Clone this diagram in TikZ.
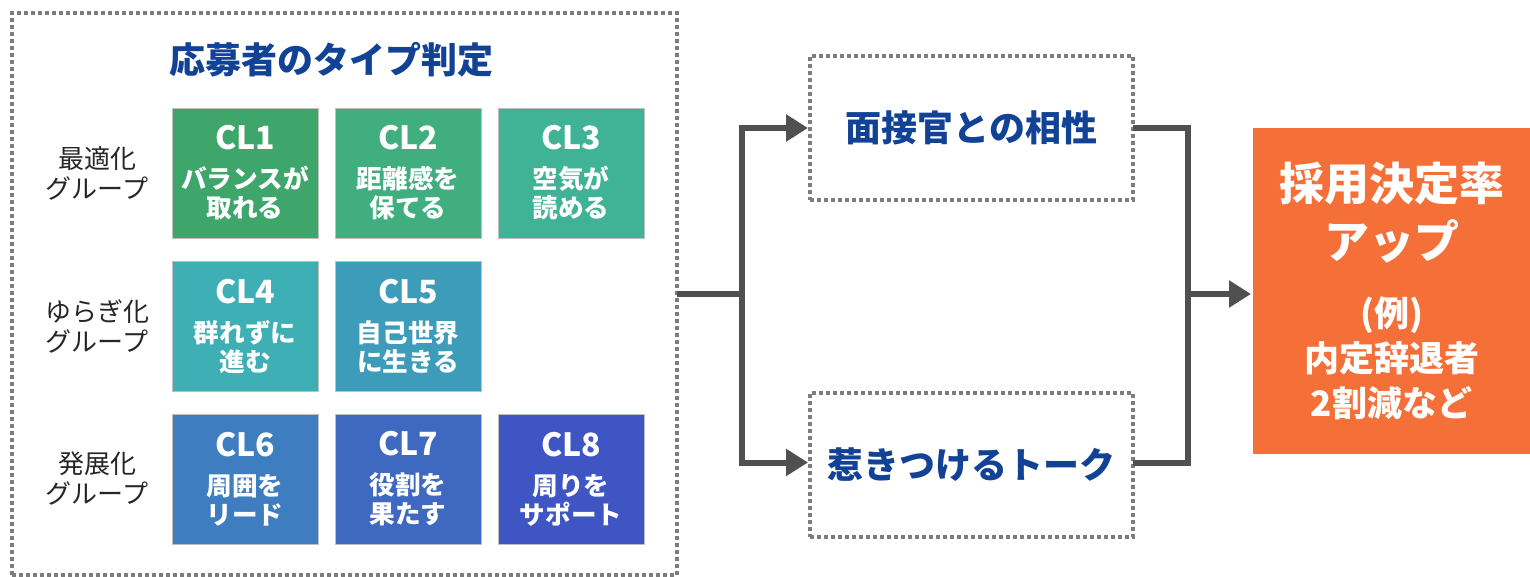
\documentclass[tikz,border=0pt]{standalone}
\usepackage{fontspec}
\setmainfont{Noto Sans CJK JP}
\usetikzlibrary{positioning,arrows.meta}

\definecolor{clA}{RGB}{63,166,107}
\definecolor{clB}{RGB}{65,174,128}
\definecolor{clC}{RGB}{64,179,150}
\definecolor{clD}{RGB}{62,175,181}
\definecolor{clE}{RGB}{62,156,187}
\definecolor{clF}{RGB}{63,125,193}
\definecolor{clG}{RGB}{63,104,192}
\definecolor{clH}{RGB}{63,85,196}
\definecolor{headblue}{RGB}{18,66,150}
\definecolor{linegray}{RGB}{80,80,80}
\definecolor{dotgray}{RGB}{125,125,125}
\definecolor{resultorange}{RGB}{244,112,56}

\begin{document}
\begin{tikzpicture}
  [x=0.5pt, y=-0.5pt,
    node distance=8.5pt,
    clbox/.style={%
      rectangle, outer sep=0pt, inner sep=0pt,
      minimum width=73pt, minimum height=65pt,
      draw=white!75!black, line width=0.4pt,
      text=white, align=center,
      font=\bfseries\fontsize{12.8}{14.5}\selectfont
    },
    grouplabel/.style={%
      align=center, text=black!85,
      font=\fontsize{13}{15}\selectfont
    },
    dotbox/.style={%
      rectangle, outer sep=0pt, draw=dotgray,
      line width=2pt, dash pattern=on 2pt off 1.5pt
    },
    conn/.style={%
      draw=linegray, line width=3pt
    },
    arr/.style={%
      conn, -{Triangle[length=11pt,width=13pt]}
    },
  ]
  \useasboundingbox (0,0) rectangle (1530,577);

  % left block
  \node[dotbox, minimum width=332.5pt, minimum height=281pt] (types) at (344.5,294) {};
  \node[text=headblue, font=\bfseries\fontsize{18}{20}\selectfont] (title) at (331,60) {応募者のタイプ判定};

  \node[clbox, fill=clA] (cl1) at (245,173)
    {{\fontsize{16}{16}\selectfont CL1}\\[5pt] バランスが\\取れる};
  \node[clbox, fill=clB, right=of cl1] (cl2)
    {{\fontsize{16}{16}\selectfont CL2}\\[5pt] 距離感を\\保てる};
  \node[clbox, fill=clC, right=of cl2] (cl3)
    {{\fontsize{16}{16}\selectfont CL3}\\[5pt] 空気が\\読める};

  \node[clbox, fill=clD, below=11.5pt of cl1] (cl4)
    {{\fontsize{16}{16}\selectfont CL4}\\[5pt] 群れずに\\進む};
  \node[clbox, fill=clE, right=of cl4] (cl5)
    {{\fontsize{16}{16}\selectfont CL5}\\[5pt] 自己世界\\に生きる};

  \node[clbox, fill=clF, below=11.5pt of cl4] (cl6)
    {{\fontsize{16}{16}\selectfont CL6}\\[5pt] 周囲を\\リード};
  \node[clbox, fill=clG, right=of cl6] (cl7)
    {{\fontsize{16}{16}\selectfont CL7}\\[5pt] 役割を\\果たす};
  \node[clbox, fill=clH, right=of cl7] (cl8)
    {{\fontsize{16}{16}\selectfont CL8}\\[5pt] 周りを\\サポート};

  \node[grouplabel] (g1) at (97,173) {最適化\\グループ};
  \node[grouplabel] (g2) at (97,326) {ゆらぎ化\\グループ};
  \node[grouplabel] (g3) at (97,479) {発展化\\グループ};

  % middle
  \node[dotbox, minimum width=161.5pt, minimum height=72pt,
    text=headblue, font=\bfseries\fontsize{18}{20}\selectfont] (aisho) at (971.5,128) {面接官との相性};
  \node[dotbox, minimum width=161.5pt, minimum height=72pt,
    text=headblue, font=\bfseries\fontsize{18}{20}\selectfont] (talk) at (971.5,464.5) {惹きつけるトーク};

  % right
  \node[rectangle, fill=resultorange, minimum width=138.5pt, minimum height=163pt,
    outer sep=0pt, text=white, align=center,
    font=\bfseries\fontsize{22.5}{29}\selectfont] (result) at (1391.5,291)
    {採用決定率\\アップ\\[5pt]
     {\fontsize{17.5}{21}\selectfont (例)}\\[-6.5pt]
     {\fontsize{17.5}{21}\selectfont 内定辞退者}\\[-6.5pt]
     {\fontsize{17.5}{21}\selectfont 2割減など}};

  \coordinate (split) at (742,294);
  \coordinate (merge) at (1188,294);

  \draw[conn] (types.east) -- (split);
  \draw[arr] (split) |- ([xshift=-1pt]aisho.west);
  \draw[arr] (split) |- ([xshift=-1pt,yshift=1pt]talk.west);
  \draw[conn] (aisho.east) -| (merge);
  \draw[conn] ([yshift=1pt]talk.east) -| (merge);
  \draw[arr] (merge) -- ([xshift=-1pt]result.west |- merge);

\end{tikzpicture}
\end{document}
